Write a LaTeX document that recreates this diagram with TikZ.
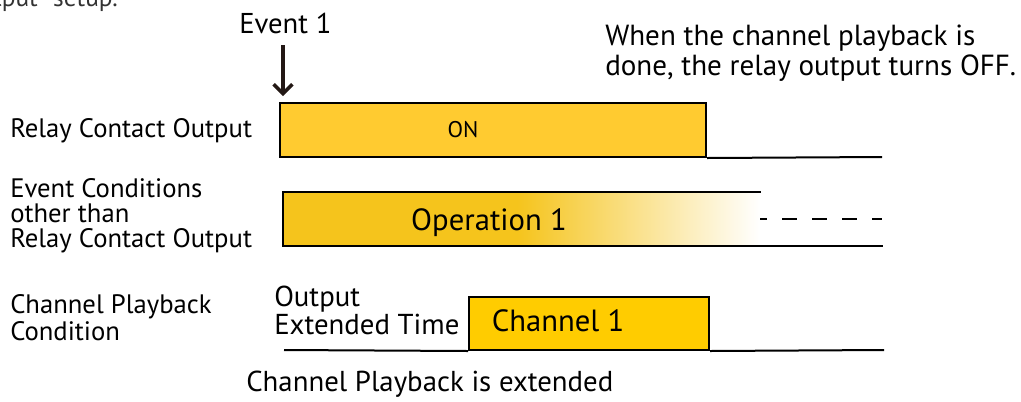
\documentclass[tikz,border=0pt]{standalone}
\usepackage{fontspec}
\setmainfont{PT Sans}
\usetikzlibrary{arrows.meta}
\definecolor{relayfill}{HTML}{FFCB30}
\definecolor{opfill}{HTML}{F5C41C}
\definecolor{chfill}{HTML}{FFCC00}
\definecolor{ink}{HTML}{231815}
\definecolor{topgray}{HTML}{333333}
\begin{document}
\begin{tikzpicture}[x=0.75pt,y=-0.75pt,
  lbl/.style={anchor=base west, inner sep=0pt, align=left, font=\fontsize{20}{18.75}\selectfont},
  boxline/.style={draw=black, line width=1.5pt},
  baseline/.style={draw=black, line width=1.5pt},
  evarrow/.style={draw=ink, line width=2.6pt, -{Straight Barb[length=7pt,width=14pt]}},
]
\useasboundingbox (0,0) rectangle (1021,401);
\clip (0,0) rectangle (1021,401);

% clipped text at top
\node[anchor=base east, inner sep=0pt, text=topgray, font=\fontsize{19}{22}\selectfont] (cut) at (118,6) {Output” setup.};

% event arrow
\node[lbl, font=\fontsize{21.5}{24}\selectfont] (ev) at (239,33) {Event 1};
\coordinate (arrS) at (283,45);
\coordinate (arrE) at (283,96);
\draw[evarrow] (arrS) -- (arrE);

% right note (anchor = baseline of last line)
\node[lbl, font=\fontsize{21.8}{22.5}\selectfont] (note) at (605,75) {When the channel playback is\\done, the relay output turns OFF.};

% left labels
\node[lbl] (l1) at (10,137) {Relay Contact Output};
\node[lbl] (l2) at (10,247) {Event Conditions\\other than\\Relay Contact Output};
\node[lbl, font=\fontsize{20}{20.25}\selectfont] (l3) at (10,340) {Channel Playback\\Condition};

% relay contact output row
\node[boxline, fill=relayfill, minimum width=319.5pt, minimum height=40.5pt, inner sep=0pt] (relay) at (493,130) {};
\node[anchor=base, inner sep=0pt, font=\fontsize{17}{20}\selectfont] (on) at (463,137) {ON};
\coordinate (relayEnd) at (882,157);
\draw[baseline] (relay.south east) -- (relayEnd);

% operation row
\fill[opfill] (283,192) rectangle (518,246);
\shade[left color=opfill, right color=white] (517,192) rectangle (760,246);
\coordinate (opTR) at (760,192);
\coordinate (opTL) at (283,192);
\coordinate (opBL) at (283,246);
\coordinate (opBE) at (882,246);
\draw[boxline, line cap=rect] (opTR) -- (opTL) -- (opBL) -- (opBE);
\node[anchor=base, inner sep=0pt, font=\fontsize{23}{26}\selectfont] (op) at (489,230) {Operation 1};
\coordinate (dashS) at (760,219);
\coordinate (dashE) at (882,219);
\draw[line width=1.5pt, dash pattern=on 11.25pt off 11.25pt, dash phase=6pt] (dashS) -- (dashE);

% channel row
\node[boxline, fill=chfill, minimum width=180pt, minimum height=39.75pt, inner sep=0pt] (ch) at (589,323.5) {};
\node[anchor=base, inner sep=0pt, font=\fontsize{23}{26}\selectfont] (chtxt) at (558,331) {Channel 1};
\coordinate (chS) at (284,350);
\coordinate (chE) at (884,350);
\draw[baseline] (chS) -- (ch.south west);
\draw[baseline] (ch.south east) -- (chE);
\node[lbl, font=\fontsize{21.6}{21}\selectfont] (ext) at (274,334) {Output\\Extended Time};
\node[lbl, font=\fontsize{21.6}{24}\selectfont] (cap) at (246,391) {Channel Playback is extended};
\end{tikzpicture}
\end{document}
